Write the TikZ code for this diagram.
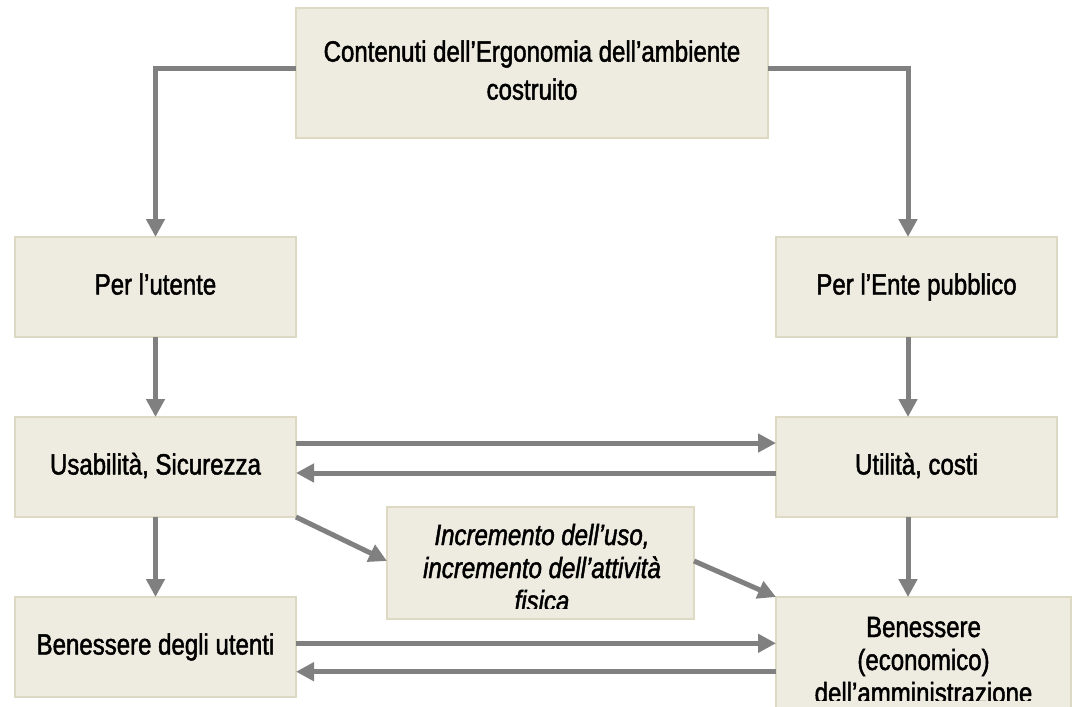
\documentclass[tikz,border=0pt]{standalone}
\usepackage{fontspec}
\setmainfont{Liberation Sans}[FakeStretch=0.82, FakeBold=1.6]
\usetikzlibrary{arrows.meta}

\definecolor{boxfill}{RGB}{238,236,225}
\definecolor{boxline}{RGB}{221,217,195}
\definecolor{arrgray}{RGB}{128,128,128}

\newcommand{\boxfont}{\fontsize{29.3pt}{33pt}\selectfont}

\tikzset{
  card/.style={rectangle, draw=boxline, line width=1.2pt, fill=boxfill,
    inner sep=0pt, outer sep=0pt, align=center, font=\boxfont,
    text height=21pt, text depth=6pt},
  lbl/.style={inner sep=0pt, outer sep=0pt, font=\boxfont},
  flow/.style={draw=arrgray, line width=5pt,
    -{Triangle[length=18pt,width=18pt]}},
}

\begin{document}
\begin{tikzpicture}[x=1pt, y=-1pt]
  \clip (0,0) rectangle (1075,706);
  \fill[white] (0,0) rectangle (1075,706);

  % boxes
  \node[card, minimum width=472pt, minimum height=130pt,
        text height=, text depth=] (top) at (532,73)
    {\fontsize{29.3pt}{38pt}\selectfont\begin{tabular}{@{}c@{}}Contenuti dell’Ergonomia dell’ambiente\\ costruito\end{tabular}};

  \node[card, minimum width=281pt, minimum height=100pt] (utente) at (155.5,287) {Per l’utente};
  \node[card, minimum width=281pt, minimum height=100pt] (ente)   at (916.5,287) {Per l’Ente pubblico};
  \node[card, minimum width=281pt, minimum height=100pt] (usab)   at (155.5,467) {Usabilità, Sicurezza};
  \node[card, minimum width=281pt, minimum height=100pt] (util)   at (916.5,467) {Utilità, costi};
  \node[card, minimum width=281pt, minimum height=100pt] (benu)   at (155.5,647) {Benessere degli utenti};

  % boxes whose text runs past the lower inner margin
  \node[card, minimum width=307pt, minimum height=112pt] (mid)  at (540.5,563) {};
  \node[card, minimum width=295pt, minimum height=114pt] (bena) at (923.5,654) {};

  \begin{scope}
    \clip (mid.north west) rectangle ([yshift=11pt]mid.south east);
    \node[lbl, anchor=base] (midtxt) at (542,545)
      {\itshape\begin{tabular}[t]{@{}c@{}}Incremento dell’uso,\\ incremento dell’attività\\ fisica\end{tabular}};
  \end{scope}
  \begin{scope}
    \clip (bena.north west) rectangle ([yshift=11pt]bena.south east);
    \node[lbl, anchor=base] (benatxt) at (923.5,637)
      {\begin{tabular}[t]{@{}c@{}}Benessere\\ (economico)\\ dell’amministrazione\end{tabular}};
  \end{scope}

  % connectors from the title box
  \draw[flow] ([yshift=4pt]top.west) -| (utente.north);
  \draw[flow] ([yshift=4pt]top.east) -| ([xshift=-8.5pt]ente.north);

  % vertical flows
  \draw[flow] (utente.south) -- (usab.north);
  \draw[flow] (usab.south) -- (benu.north);
  \draw[flow] ([xshift=-8.5pt]ente.south) -- ([xshift=-8.5pt]util.north);
  \coordinate (u1) at ([xshift=-8.5pt]util.south);
  \draw[flow] (u1) -- (u1 |- bena.north);

  % horizontal exchanges
  \draw[flow] ([yshift=24pt]usab.east) -- ([yshift=24pt]util.west);
  \draw[flow] ([yshift=-6pt]util.west) -- ([yshift=-6pt]usab.east);
  \coordinate (b1) at ([yshift=3.7pt]benu.east);
  \coordinate (b2) at ([yshift=-24.7pt]benu.east);
  \draw[flow] (b1) -- (b1 -| bena.west);
  \draw[flow] (b2 -| bena.west) -- (b2);

  % diagonal flows through the middle box
  \draw[flow] (usab.south east) -- ([yshift=2pt]mid.west);
  \draw[flow] ([yshift=2pt]mid.east) -- (bena.north west);
\end{tikzpicture}
\end{document}
